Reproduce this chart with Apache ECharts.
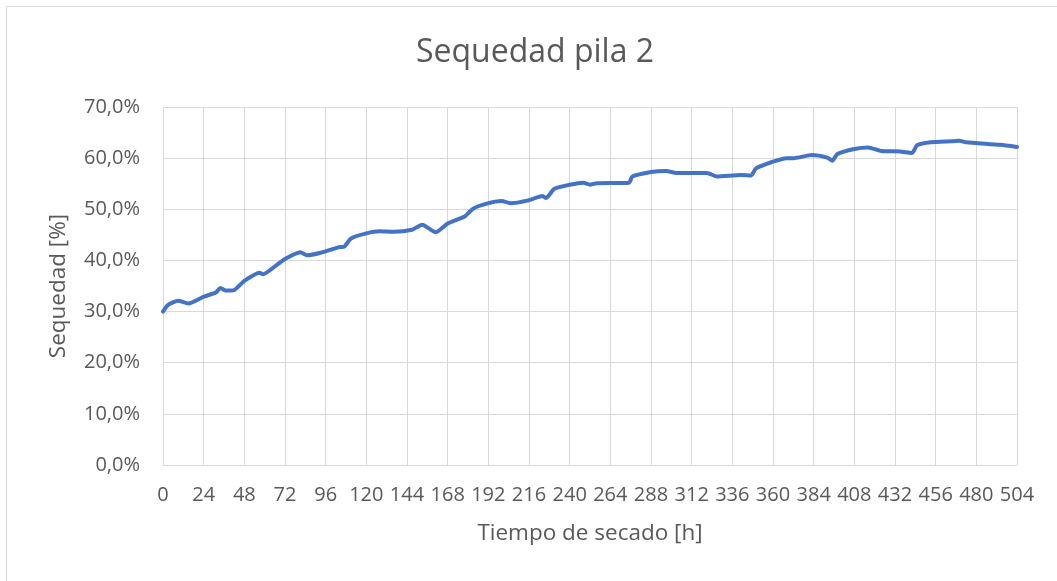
<!DOCTYPE html>
<html>
<head>
<meta charset="utf-8">
<script src="https://cdn.jsdelivr.net/npm/echarts@6/dist/echarts.min.js"></script>
<style>
html,body{margin:0;padding:0;background:#fff;}
#c{width:1057px;height:581px;}
</style>
</head>
<body>
<div id="c"></div>
<script>
const titleText = 'Sequedad pila 2';
const xName = 'Tiempo de secado [h]';
const yName = 'Sequedad [%]';
const hours = [0,3,9,15,24,31,34,37,42,48,57,59,67,72,81,85,93,104,107,111,120,128,136,147,153,161,168,178,183,191,200,205,215,224,226,231,240,248,252,256,275,277,288,297,303,321,327,341,347,350,359,368,372,383,392,395,398,408,416,424,435,442,445,453,466,470,474,494,504];
const sequedad = [30.0,31.3,32.1,31.6,32.9,33.7,34.6,34.1,34.2,36.0,37.6,37.3,39.1,40.3,41.6,41.0,41.5,42.6,42.7,44.3,45.3,45.7,45.6,46.0,47.0,45.5,47.2,48.6,50.1,51.1,51.6,51.2,51.7,52.6,52.2,54.0,54.8,55.2,54.8,55.1,55.2,56.4,57.3,57.5,57.1,57.1,56.4,56.7,56.6,58.0,59.2,60.0,60.0,60.6,60.1,59.5,60.8,61.8,62.1,61.4,61.3,61.0,62.5,63.1,63.3,63.4,63.1,62.6,62.2];

const pts = hours.map((h,i)=>[h, sequedad[i]]);
const font = '"Open Sans", "Noto Sans", sans-serif';
const chart = echarts.init(document.getElementById('c'), null, {renderer:'canvas'});
chart.setOption({
  backgroundColor:'#fff',
  animation:false,
  graphic:[
    {type:'line', shape:{x1:6.5,y1:6.5,x2:1057,y2:6.5}, style:{stroke:'#d9d9d9', lineWidth:1}, silent:true},
    {type:'line', shape:{x1:6.5,y1:6.5,x2:6.5,y2:581}, style:{stroke:'#d9d9d9', lineWidth:1}, silent:true}
  ],
  title:{text:titleText, left:411, top:32, textStyle:{fontFamily:font, fontSize:32, fontWeight:'normal', color:'#595959'}},
  grid:{left:163, right:40, top:107, bottom:116, containLabel:false},
  xAxis:{type:'value', min:0, max:504, interval:24,
    name:xName, nameLocation:'middle', nameGap:57,
    nameTextStyle:{fontFamily:font, fontSize:22.5, color:'#595959'},
    axisLine:{show:true, lineStyle:{color:'#d9d9d9', width:1}},
    axisTick:{show:false},
    axisLabel:{fontFamily:font, fontSize:20, color:'#595959', margin:20},
    splitLine:{show:true, lineStyle:{color:'#d9d9d9', width:1}}},
  yAxis:{type:'value', min:0, max:70, interval:10,
    name:yName, nameLocation:'middle', nameGap:93, nameRotate:90,
    nameTextStyle:{fontFamily:font, fontSize:22.5, color:'#595959'},
    axisLine:{show:false}, axisTick:{show:false},
    axisLabel:{fontFamily:font, fontSize:20, color:'#595959', margin:23, formatter:v=>v.toFixed(1).replace('.',',')+'%'},
    splitLine:{show:true, lineStyle:{color:'#d9d9d9', width:1}}},
  series:[{type:'line', data:pts, showSymbol:false, smooth:0.2,
    lineStyle:{color:'#4472C4', width:4, cap:'round', join:'round'}}]
});
</script>
</body>
</html>
